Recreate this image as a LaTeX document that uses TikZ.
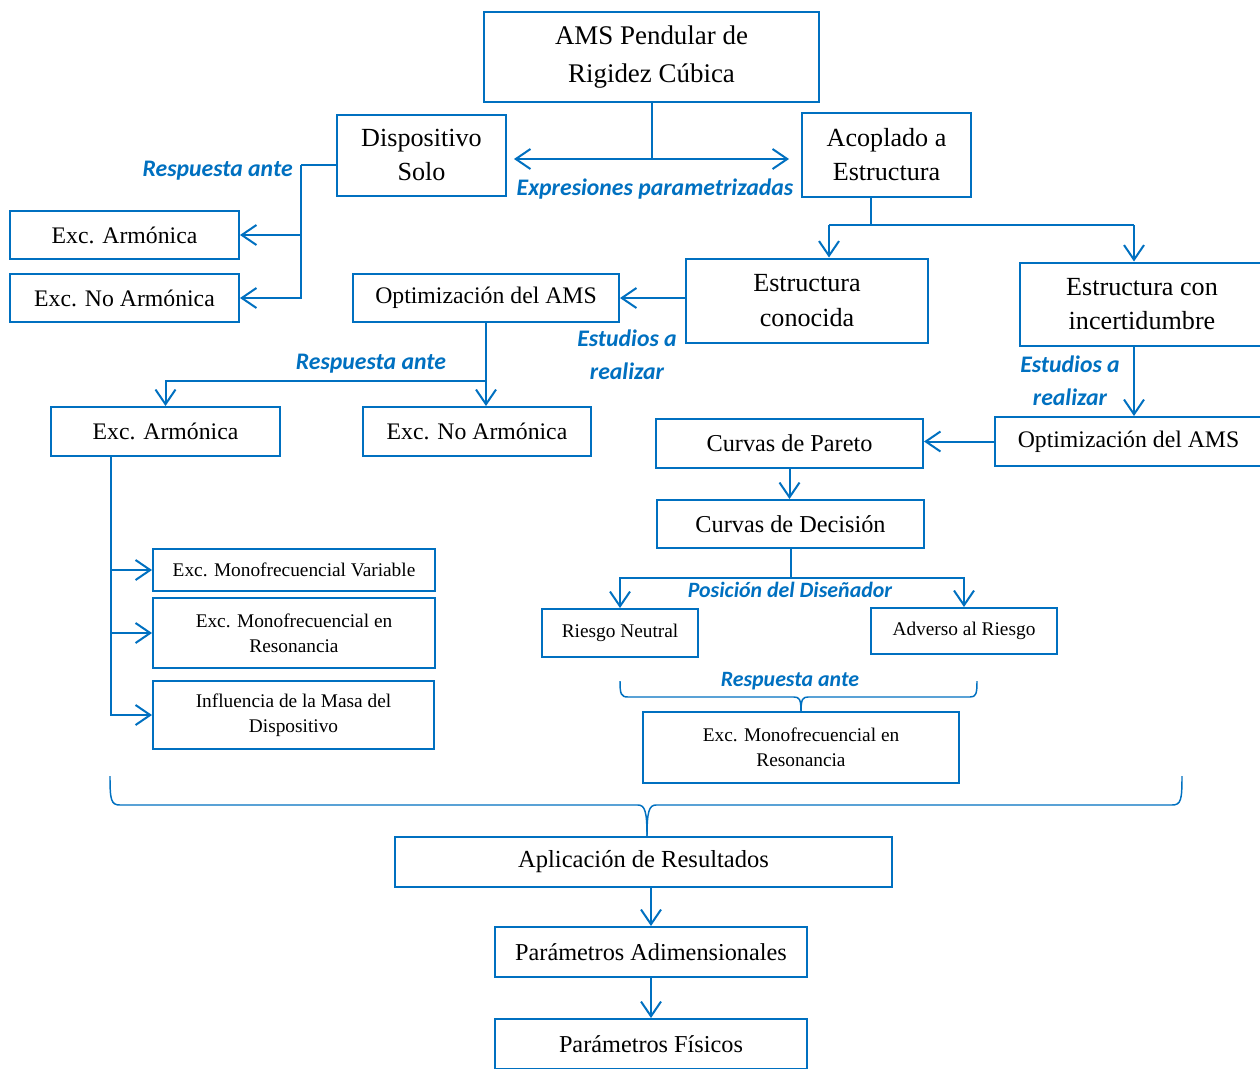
\documentclass[tikz,border=0pt]{standalone}
\usepackage{fontspec}
\setmainfont{Liberation Serif}
\newfontfamily\lblfont{Carlito}
\usetikzlibrary{arrows.meta}
\definecolor{myblue}{RGB}{0,112,192}
\tikzset{
 box/.style={draw=myblue, line width=1.5pt, inner sep=0pt, align=center, text=black, rectangle},
 bw/.style={minimum width=#1},
 bh/.style={minimum height=#1},
 big/.style={font=\fontsize{19.6}{26}\selectfont},
 mid/.style={font=\fontsize{17.8}{22}\selectfont},
 midb/.style={font=\fontsize{18.2}{22}\selectfont},
 small/.style={font=\fontsize{14.5}{19}\selectfont},
 conn/.style={draw=myblue, line width=1.5pt},
 thinconn/.style={draw=myblue, line width=0.9pt},
 arr/.style={conn, -{Straight Barb[length=11pt,width=15pt,line width=1.5pt]}},
 brace/.style={draw=myblue, line width=1.1pt},
 lbl/.style={text=myblue, inner sep=0pt, font=\lblfont\bfseries\itshape\fontsize{17.8}{21}\selectfont},
 lbls/.style={text=myblue, inner sep=0pt, font=\lblfont\bfseries\itshape\fontsize{16.4}{20}\selectfont},
}
\begin{document}
\begin{tikzpicture}[x=0.75pt,y=-0.75pt]
\useasboundingbox (0,0) rectangle (1260,1068);

% boxes
\node[box, bw=251.25pt, bh=67.5pt, font=\fontsize{20.2}{28.5}\selectfont] (ams) at (651.5,57) {AMS Pendular de\\Rigidez Cúbica};
\node[box, big, bw=126.75pt, bh=60.75pt] (disp) at (421.5,155) {Dispositivo\\Solo};
\node[box, big, bw=126.75pt, bh=63pt] (aco) at (886.5,154.5) {Acoplado a\\Estructura};
\node[box, mid, bw=171.75pt, bh=36pt] (ea1) at (124.5,235) {Exc. Armónica};
\node[box, mid, bw=171.75pt, bh=36pt] (ena1) at (124.5,298) {Exc. No Armónica};
\node[box, big, bw=181.5pt, bh=63pt] (ec) at (807,300.5) {Estructura\\conocida};
\node[box, big, bw=183pt, bh=62.25pt] (eci) at (1142,304) {Estructura con\\incertidumbre};
\node[box, mid, bw=199.5pt, bh=36pt] (opt1) at (486,298) {Optimización del AMS};
\node[box, mid, bw=171.75pt, bh=36.75pt] (ea2) at (165.5,431.5) {Exc. Armónica};
\node[box, mid, bw=171pt, bh=36.75pt] (ena2) at (477,431.5) {Exc. No Armónica};
\node[box, small, bw=211.5pt, bh=31.5pt] (mv) at (294,570) {Exc. Monofrecuencial Variable};
\node[box, small, bw=211.5pt, bh=52.5pt] (mr) at (294,633) {Exc. Monofrecuencial en\\Resonancia};
\node[box, small, bw=210.75pt, bh=51pt] (im) at (293.5,715) {Influencia de la Masa del\\Dispositivo};
\node[box, mid, bw=200.25pt, bh=36.75pt] (opt2) at (1128.5,441.5) {Optimización del AMS};
\node[box, midb, bw=200.25pt, bh=36.75pt] (cp) at (789.5,443.5) {Curvas de Pareto};
\node[box, midb, bw=200.25pt, bh=36pt] (cd) at (790.5,524) {Curvas de Decisión};
\node[box, small, bw=117pt, bh=36pt] (rn) at (620,633) {Riesgo Neutral};
\node[box, small, bw=139.5pt, bh=34.5pt] (ar) at (964,631) {Adverso al Riesgo};
\node[box, small, bw=237pt, bh=53.25pt] (mr2) at (801,747.5) {Exc. Monofrecuencial en\\Resonancia};
\node[box, font=\fontsize{18.4}{22}\selectfont, bw=372.75pt, bh=37.5pt] (apl) at (643.5,862) {Aplicación de Resultados};
\node[box, midb, bw=234pt, bh=37.5pt] (pa) at (651,952) {Parámetros Adimensionales};
\node[box, midb, bw=234pt, bh=37.5pt] (pf) at (651,1044) {Parámetros Físicos};

% labels
\node[lbl, anchor=east] (l1) at (293,171) {Respuesta ante};
\node[lbl] (l2) at (655,189) {Expresiones parametrizadas};
\node[lbl] (l3) at (627,338) {Estudios a};
\node[lbl] (l4) at (627,371) {realizar};
\node[lbl] (l5) at (371,364) {Respuesta ante};
\node[lbl] (l6) at (1070,364) {Estudios a};
\node[lbl] (l7) at (1070,397) {realizar};
\node[lbls] (l8) at (790,590) {Posición del Diseñador};
\node[lbls] (l9) at (790,681) {Respuesta ante};

% connectors
\coordinate (exL) at (514,159);
\coordinate (exR) at (789,159);
\draw[conn] (ams.south) -- (ams.south |- exL);
\draw[arr] (ams.south |- exL) -- (exL);
\draw[arr] (ams.south |- exL) -- (exR);

\coordinate (r1) at (301,165);
\draw[thinconn] (disp.west |- r1) -- (r1);
\draw[arr] (r1) |- (ea1.east);
\draw[arr] (r1) |- (ena1.east);

\coordinate (aj) at (871,225);
\coordinate (ajL) at (829,225);
\coordinate (ajR) at (1134,225);
\draw[conn] (aco.south -| aj) -- (aj);
\draw[conn] (ajL) -- (ajR);
\draw[arr] (ajL) -- (ajL |- ec.north);
\draw[arr] (ajR) -- (ajR |- eci.north);

\draw[arr] (ec.west |- opt1.east) -- (opt1.east);

\coordinate (j2) at (486,381);
\draw[arr] (opt1.south) -- (opt1.south |- ena2.north);
\draw[arr] (opt1.south |- j2) -| (ea2.north);

\coordinate (j3) at (111,456);
\draw[arr] (ea2.south -| j3) |- (mv.west);
\draw[arr] (ea2.south -| j3) |- (mr.west);
\draw[arr] (ea2.south -| j3) |- (im.west);

\draw[arr] (eci.south -| ajR) -- (ajR |- opt2.north);
\draw[arr] (opt2.west) -- (opt2.west -| cp.east);
\draw[arr] (cp.south) -- (cp.south |- cd.north);

\coordinate (j4) at (790,578);
\draw[conn] (cd.south) -- (cd.south |- j4);
\draw[arr] (cd.south |- j4) -| (rn.north);
\draw[arr] (cd.south |- j4) -| (ar.north);

% small brace
\coordinate (b1L) at (620,681);
\coordinate (b1R) at (977,681);
\draw[brace] (b1L) .. controls (620,694) and (621,697) .. (628,697) -- (794,697)
  .. controls (799,697) and (801,699) .. (mr2.north);
\draw[brace] (mr2.north) .. controls (801,699) and (803,697) .. (808,697) -- (970,697)
  .. controls (976,697) and (977,694) .. (b1R);

% big brace
\coordinate (b2L) at (110,776);
\coordinate (b2R) at (1182,776);
\coordinate (b2T) at (647,836);
\draw[brace] (b2L) .. controls (110,800) and (111,805) .. (120,805) -- (638,805)
  .. controls (645,805) and (647,812) .. (b2T);
\draw[brace] (b2T) .. controls (647,812) and (649,805) .. (656,805) -- (1172,805)
  .. controls (1181,805) and (1182,800) .. (b2R);

\draw[arr] (pa.north |- apl.south) -- (pa.north);
\draw[arr] (pa.south) -- (pf.north);
\end{tikzpicture}
\end{document}
